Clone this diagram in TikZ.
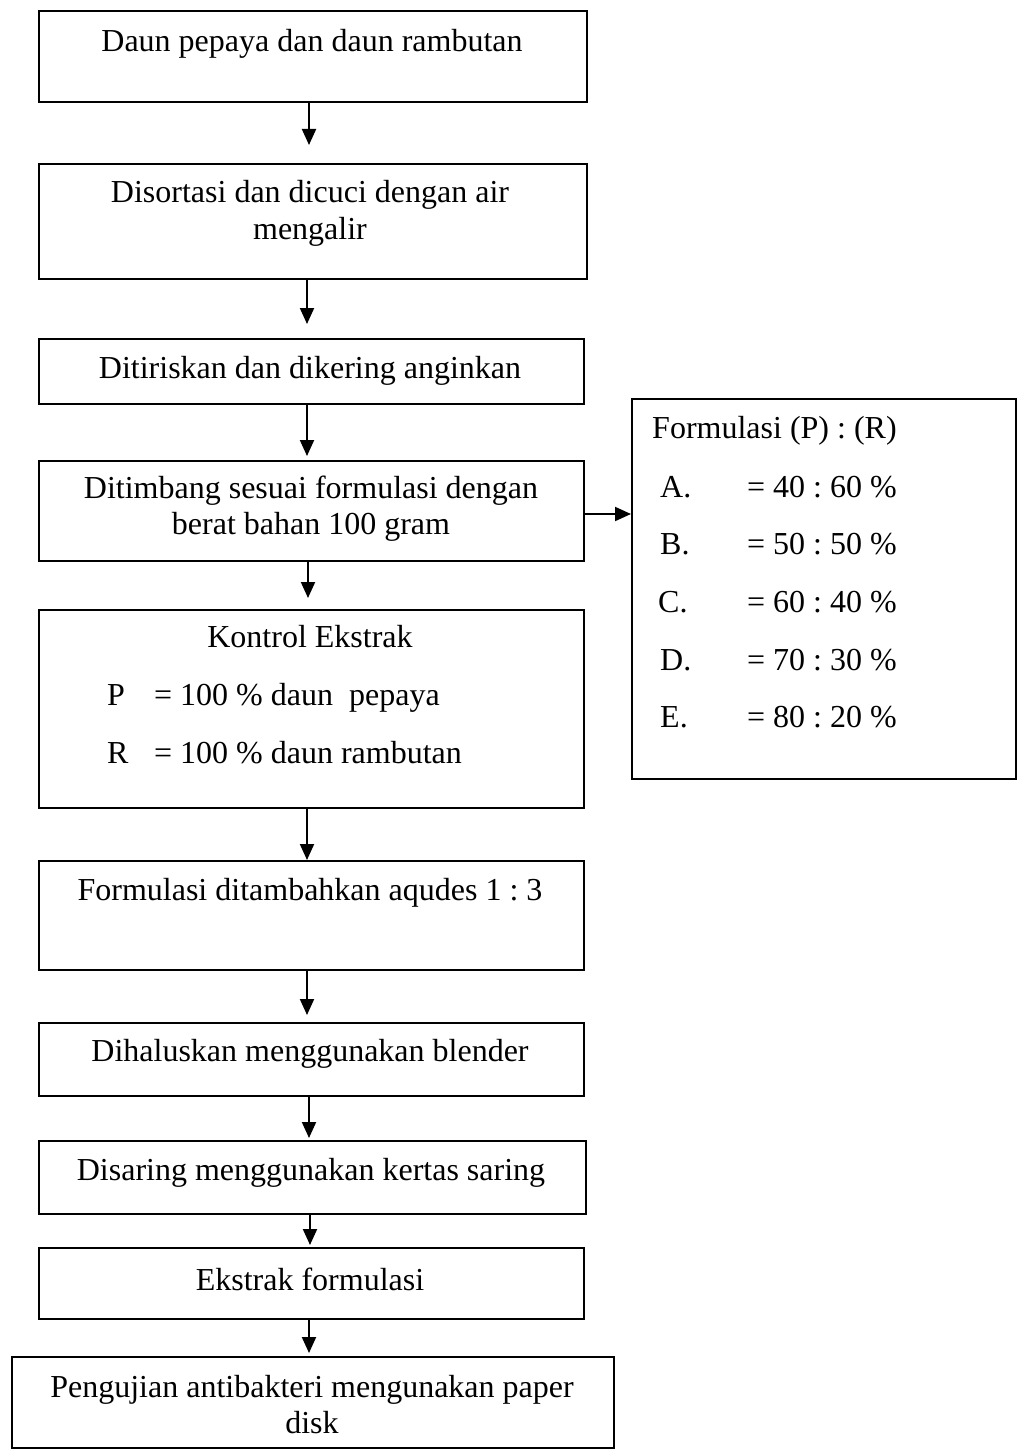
\documentclass[tikz,border=0pt]{standalone}
\usepackage{fontspec}
\setmainfont{Liberation Serif}
\usetikzlibrary{arrows.meta}
\frenchspacing
\begin{document}
\begin{tikzpicture}[x=1pt,y=-1pt,
  box/.style={draw,line width=2pt,inner sep=0pt,anchor=north west},
  txt/.style={inner sep=0pt,anchor=base,font=\fontsize{32}{36}\selectfont},
  ltxt/.style={txt,anchor=base west},
  arr/.style={line width=2pt,-{Triangle[width=14pt,length=16pt]}}]
\useasboundingbox (0,0) rectangle (1023,1450);
% boxes
\node[box,minimum width=548pt,minimum height=91pt]  (b1) at (38,10) {};
\node[box,minimum width=548pt,minimum height=115pt] (b2) at (38,163) {};
\node[box,minimum width=545pt,minimum height=65pt]  (b3) at (38,338) {};
\node[box,minimum width=545pt,minimum height=100pt] (b4) at (38,460) {};
\node[box,minimum width=545pt,minimum height=198pt] (b5) at (38,609) {};
\node[box,minimum width=545pt,minimum height=109pt] (b6) at (38,860) {};
\node[box,minimum width=545pt,minimum height=73pt]  (b7) at (38,1022) {};
\node[box,minimum width=547pt,minimum height=73pt]  (b8) at (38,1140) {};
\node[box,minimum width=545pt,minimum height=71pt]  (b9) at (38,1247) {};
\node[box,minimum width=602pt,minimum height=91pt]  (b10) at (11,1356) {};
\node[box,minimum width=384pt,minimum height=380pt] (rb) at (631,398) {};
% texts
\node[txt] (t1) at (312,52) {Daun pepaya dan daun rambutan};
\node[txt] (t2a) at (310,203) {Disortasi dan dicuci dengan air};
\node[txt] (t2b) at (310,239) {mengalir};
\node[txt] (t3) at (310,378) {Ditiriskan dan dikering anginkan};
\node[txt] (t4a) at (311,498) {Ditimbang sesuai formulasi dengan};
\node[txt] (t4b) at (311,534) {berat bahan 100 gram};
\node[txt] (t5a) at (310,647) {Kontrol Ekstrak};
\node[ltxt] (t5b) at (107,705) {\makebox[47pt][l]{P}= 100 \% daun\ \ pepaya};
\node[ltxt] (t5c) at (107,763) {\makebox[47pt][l]{R}= 100 \% daun rambutan};
\node[txt] (t6) at (310,900) {Formulasi ditambahkan aqudes 1 : 3};
\node[txt] (t7) at (310,1061) {Dihaluskan menggunakan blender};
\node[txt] (t8) at (311,1180) {Disaring menggunakan kertas saring};
\node[txt] (t9) at (310,1290) {Ekstrak formulasi};
\node[txt] (t10a) at (312,1397) {Pengujian antibakteri mengunakan paper};
\node[txt] (t10b) at (312,1433) {disk};
\node[ltxt] (r0) at (652,438) {Formulasi (P) : (R)};
\node[ltxt] (rA) at (660,497) {\makebox[87pt][l]{A.}= 40 : 60 \%};
\node[ltxt] (rB) at (660,554.7) {\makebox[87pt][l]{B.}= 50 : 50 \%};
\node[ltxt] (rC) at (658,612.4) {\makebox[89pt][l]{C.}= 60 : 40 \%};
\node[ltxt] (rD) at (660,670) {\makebox[87pt][l]{D.}= 70 : 30 \%};
\node[ltxt] (rE) at (660,727.8) {\makebox[87pt][l]{E.}= 80 : 20 \%};
% arrows
\draw[arr,shorten >=18pt] ([xshift=-4pt]b1.south) -- ([xshift=-4pt]b2.north);
\draw[arr,shorten >=14pt] ([xshift=-6pt]b2.south) -- ([xshift=-6pt]b2.south |- b3.north);
\draw[arr,shorten >=4pt] ([xshift=-4.5pt]b3.south) -- ([xshift=-4.5pt]b4.north);
\draw[arr,shorten >=11pt] ([xshift=-3.5pt]b4.south) -- ([xshift=-3.5pt]b5.north);
\draw[arr] ([xshift=-4.5pt]b5.south) -- ([xshift=-4.5pt]b6.north);
\draw[arr,shorten >=7pt] ([xshift=-4.5pt]b6.south) -- ([xshift=-4.5pt]b7.north);
\draw[arr,shorten >=2pt] ([xshift=-2.5pt]b7.south) -- ([xshift=-2.5pt]b7.south |- b8.north);
\draw[arr,shorten >=2pt] ([xshift=-2.5pt]b8.south) -- ([xshift=-2.5pt]b8.south |- b9.north);
\draw[arr,shorten >=3pt] ([xshift=-2.5pt]b9.south) -- ([xshift=-2.5pt]b9.south |- b10.north);
\draw[arr] ([yshift=-3pt]b4.east) -- ([yshift=-3pt]b4.east -| rb.west);
\end{tikzpicture}
\end{document}
